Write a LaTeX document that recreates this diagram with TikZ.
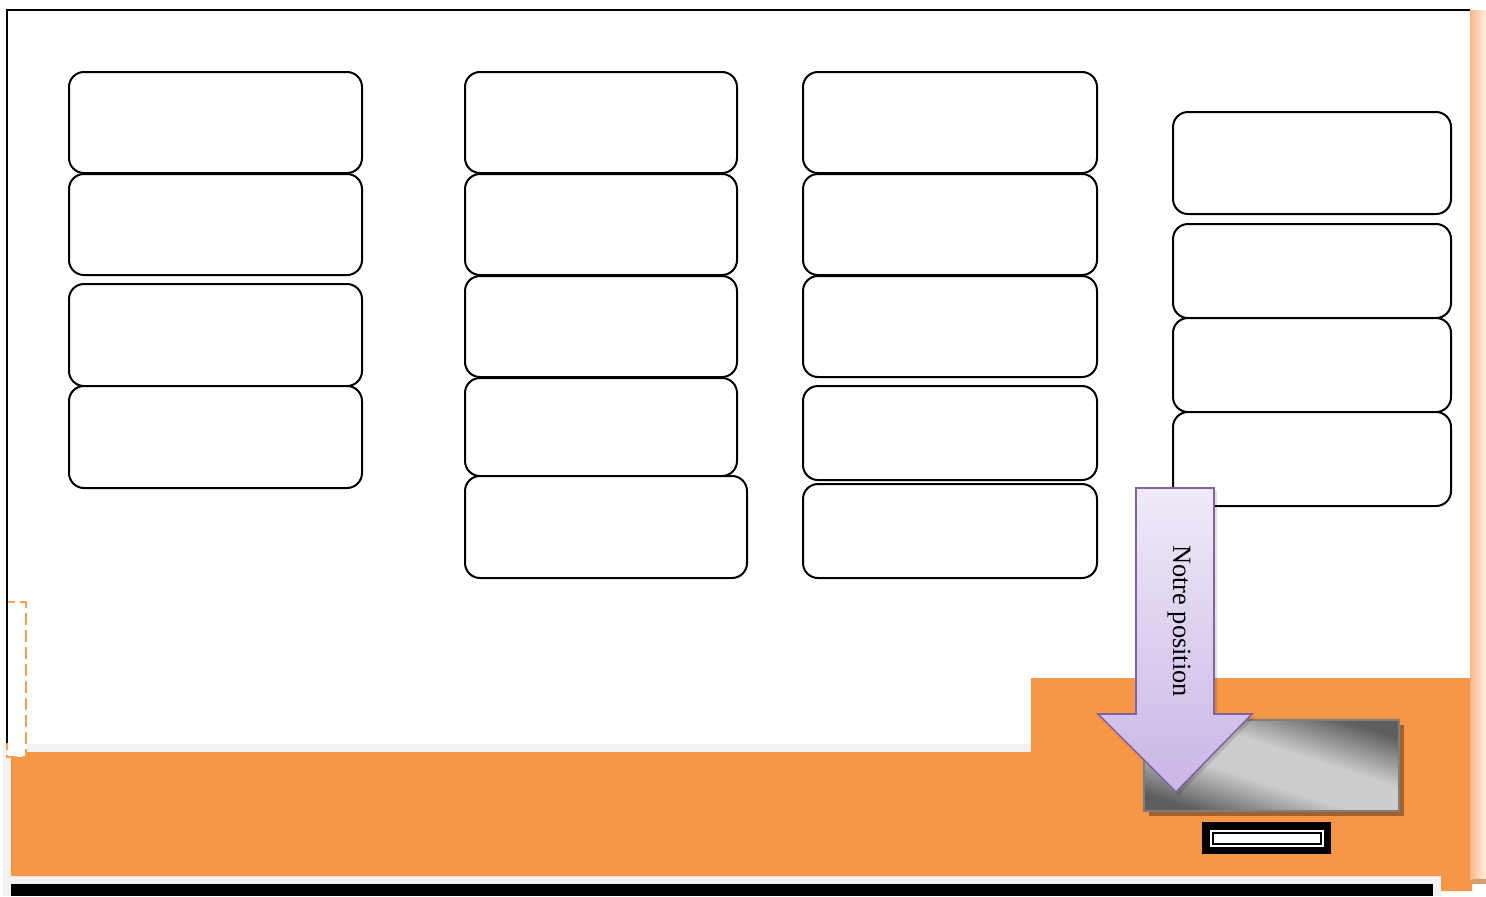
\documentclass[tikz,border=0pt]{standalone}
\usepackage{fontspec}
\setmainfont{Liberation Serif}
\definecolor{orng}{HTML}{F79646}
\definecolor{lgray}{HTML}{F2F2F2}
\definecolor{purp}{HTML}{8064A2}
\definecolor{lavtop}{HTML}{F0EAF8}
\definecolor{lavbot}{HTML}{C9B5E6}
\definecolor{stripA}{HTML}{FAB98A}
\definecolor{stripB}{HTML}{FEEEE2}
\definecolor{gdark}{HTML}{5E5E5E}
\definecolor{glight}{HTML}{CCCCCC}
\pgfdeclareverticalshading{gpanel}{100bp}{color(0bp)=(gdark); color(25bp)=(gdark); color(43bp)=(glight); color(57bp)=(glight); color(75bp)=(gdark); color(100bp)=(gdark)}
\newcommand\mybox[5]{\node[pbox,minimum width={(#4-#2)*0.5pt},minimum height={(#5-#3)*0.5pt}] (#1) at ({(#2+#4)/2},{(#3+#5)/2}) {};}
\begin{document}
\begin{tikzpicture}[x=0.5pt,y=-0.5pt,
  pbox/.style={draw=black,line width=1pt,rounded corners=7.5pt,fill=white,inner sep=0pt,outer sep=0pt,rectangle}]
\useasboundingbox (0,0) rectangle (1486,896);
\fill[white] (0,0) rectangle (1486,896);
% bottom band
\fill[lgray] (3,744) rectangle (1441,896);
\fill[orng] (11,752) -- (1031,752) -- (1031,678) -- (1472,678) -- (1472,891) -- (1441,891) -- (1441,876) -- (11,876) -- cycle;
\fill[black] (11,884) rectangle (1433,896);
% right strip
\fill[left color=stripA,right color=stripB] (1470,10) rectangle (1486,879);
\fill[black!15!stripA] (1472,879) rectangle (1486,884);
% dashed box
\draw[orng!90!white,fill=white,line width=1.3pt,dash pattern=on 6pt off 2.5pt] (7,602) rectangle (26,757);
% frame
\draw[line width=0.9pt] (7,743) -- (7,10) -- (1470,10);
% column 1
\mybox{a1}{69}{72}{362}{173}
\mybox{a2}{69}{174}{362}{275}
\mybox{a3}{69}{284}{362}{386}
\mybox{a4}{69}{386}{362}{488}
% column 2
\mybox{b1}{465}{72}{737}{173}
\mybox{b2}{465}{174}{737}{275}
\mybox{b3}{465}{276}{737}{377}
\mybox{b4}{465}{378}{737}{476}
\mybox{b5}{465}{476}{747}{578}
% column 3
\mybox{c1}{803}{72}{1097}{173}
\mybox{c2}{803}{174}{1097}{275}
\mybox{c3}{803}{276}{1097}{377}
\mybox{c4}{803}{386}{1097}{480}
\mybox{c5}{803}{484}{1097}{578}
% column 4
\mybox{d1}{1173}{112}{1451}{214}
\mybox{d2}{1173}{224}{1451}{318}
\mybox{d3}{1173}{318}{1451}{412}
\mybox{d4}{1173}{412}{1451}{506}
% gray panel
\fill[black,opacity=0.35] (1149,725) rectangle (1404,816);
\path[draw=gdark!80!white,line width=1pt,shading=gpanel,shading angle=-18] (1144,720) rectangle (1399,811);
% small black plate
\fill[black] (1202,822) rectangle (1331,854);
\fill[white] (1210,830) rectangle (1324,847);
\draw[black,line width=0.6pt] (1213,833) rectangle (1321,844);
% arrow
\fill[black,opacity=0.12] (1139,491) -- (1217,491) -- (1217,717) -- (1255,717) -- (1179,795) -- (1101,717) -- (1139,717) -- cycle;
\path[draw=purp,line width=0.8pt,top color=lavtop,bottom color=lavbot]
  (1136,488) -- (1214,488) -- (1214,714) -- (1252,714) -- (1176,792) -- (1098,714) -- (1136,714) -- cycle;
\node[rotate=-90,font=\fontsize{13.2pt}{15pt}\selectfont,inner sep=0pt] (pos) at (1179,621) {Notre position};
\end{tikzpicture}
\end{document}
